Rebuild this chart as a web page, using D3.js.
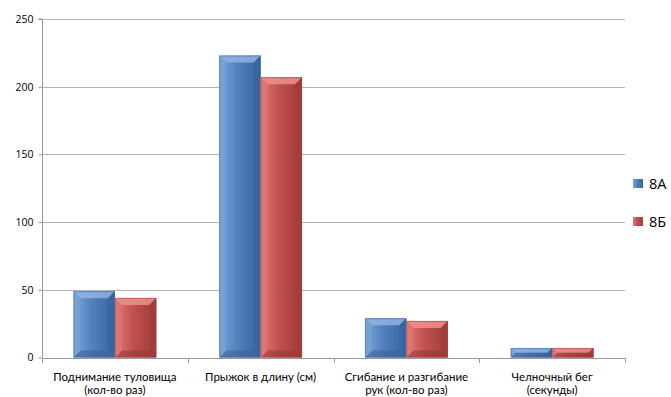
<!DOCTYPE html>
<html>
<head>
<meta charset="utf-8">
<script src="https://cdn.jsdelivr.net/npm/d3@7"></script>
<style>
  body { margin: 0; background: #fff; }
  svg { display: block; font-family: "Open Sans", "Noto Sans", sans-serif; }
</style>
</head>
<body>
<svg id="chart" width="671" height="397"></svg>
<script>
// Results of physical fitness tests for two classes
const categories = [
  ["Поднимание туловища", "(кол-во раз)"],
  ["Прыжок в длину (см)"],
  ["Сгибание и разгибание", "рук (кол-во раз)"],
  ["Челночный бег", "(секунды)"]
];
const seriesNames = ["8А", "8Б"];
const values8A = [49, 223, 29, 7];
const values8B = [44, 207, 27, 7];
const yTicks = [0, 50, 100, 150, 200, 250];

const colors = {
  "8А": { base: "#4f81bd", light: "#7ba3d8", dark: "#38649c", top: "#8fb4e3", bottom: "#3a6396" },
  "8Б": { base: "#c0504d", light: "#e07a77", dark: "#a03c39", top: "#ef8f8c", bottom: "#973735" }
};

const svg = d3.select("#chart");
const margin = { left: 42, right: 46, top: 19, bottom: 40 };
const width = 671, height = 397;
const x0 = margin.left, x1 = width - margin.right;
const y0 = height - margin.bottom, y1 = margin.top;

const x = d3.scaleBand().domain(d3.range(categories.length)).range([x0, x1]).paddingInner(0).paddingOuter(0);
const y = d3.scaleLinear().domain([0, 250]).range([y0 + 0.5, y1]);
const xs = d3.scaleBand().domain(seriesNames).range([0, x.bandwidth()]).paddingInner(0).paddingOuter(0.76);

// Gradients for the bevelled bars
const defs = svg.append("defs");
seriesNames.forEach((s, i) => {
  const g = defs.append("linearGradient").attr("id", "grad" + i)
    .attr("x1", "0").attr("x2", "1").attr("y1", "0").attr("y2", "0");
  g.append("stop").attr("offset", "0").attr("stop-color", colors[s].light);
  g.append("stop").attr("offset", "0.45").attr("stop-color", colors[s].base);
  g.append("stop").attr("offset", "1").attr("stop-color", colors[s].dark);
});

// Gridlines
svg.append("g").selectAll("line").data(yTicks.filter(d => d > 0)).join("line")
  .attr("x1", x0).attr("x2", x1)
  .attr("y1", d => Math.round(y(d)) + 0.5).attr("y2", d => Math.round(y(d)) + 0.5)
  .attr("stroke", "#b3b3b3").attr("stroke-width", 1);

// Y axis
const yAxis = svg.append("g").attr("transform", `translate(${x0 + 0.5},0)`)
  .call(d3.axisLeft(y).tickValues(yTicks).tickSize(4).tickPadding(5).tickFormat(d3.format("d")));
yAxis.select(".domain").attr("stroke", "#999").attr("d", `M-4,${y1}H0V${y0 + 0.5}`);
yAxis.selectAll(".tick line").attr("stroke", "#999");
yAxis.selectAll(".tick text").attr("font-size", 10.5).attr("fill", "#000")
  .attr("font-family", "Open Sans, sans-serif");

// Bars
const seriesValues = [values8A, values8B];
seriesNames.forEach((s, si) => {
  const g = svg.append("g");
  const bars = g.selectAll("g").data(seriesValues[si]).join("g");
  bars.each(function(v, ci) {
    const bx = x(ci) + xs(s), bw = xs.bandwidth();
    const by = y(v), bh = y(0) - by;
    const sel = d3.select(this);
    sel.append("rect").attr("x", bx).attr("y", by).attr("width", bw).attr("height", bh)
      .attr("fill", `url(#grad${si})`);
    const b = Math.min(7, bh / 2, bw / 2);
    // Top bevel
    sel.append("polygon")
      .attr("points", [[bx, by], [bx + bw, by], [bx + bw - b, by + b], [bx + b, by + b]].join(" "))
      .attr("fill", colors[s].top).attr("opacity", 0.85);
    // Bottom bevel
    sel.append("polygon")
      .attr("points", [[bx, by + bh], [bx + bw, by + bh], [bx + bw - b, by + bh - b], [bx + b, by + bh - b]].join(" "))
      .attr("fill", colors[s].bottom).attr("opacity", 0.6);
    // Left / right bevels
    sel.append("polygon")
      .attr("points", [[bx, by], [bx + b, by + b], [bx + b, by + bh - b], [bx, by + bh]].join(" "))
      .attr("fill", colors[s].light).attr("opacity", 0.5);
    sel.append("polygon")
      .attr("points", [[bx + bw, by], [bx + bw - b, by + b], [bx + bw - b, by + bh - b], [bx + bw, by + bh]].join(" "))
      .attr("fill", colors[s].dark).attr("opacity", 0.6);
    sel.append("rect").attr("x", bx + 0.5).attr("y", by + 0.5).attr("width", bw - 1).attr("height", bh - 1)
      .attr("fill", "none").attr("stroke", colors[s].dark).attr("stroke-opacity", 0.5);
  });
});

// X axis
svg.append("line").attr("x1", x0).attr("x2", x1)
  .attr("y1", Math.round(y(0)) + 0.5).attr("y2", Math.round(y(0)) + 0.5).attr("stroke", "#999");
svg.append("g").selectAll("line").data(d3.range(categories.length + 1)).join("line")
  .attr("x1", i => Math.round(x0 + i * x.bandwidth()) + 0.5)
  .attr("x2", i => Math.round(x0 + i * x.bandwidth()) + 0.5)
  .attr("y1", Math.round(y(0))).attr("y2", Math.round(y(0)) + 5).attr("stroke", "#999");

// Category labels, one text element per line
const labelLines = categories.flatMap((lines, i) => lines.map((t, k) => ({ i, k, t })));
svg.append("g").selectAll("text").data(labelLines).join("text")
  .attr("x", d => x(d.i) + x.bandwidth() / 2)
  .attr("y", d => 380.5 + d.k * 13.5)
  .attr("text-anchor", "middle").attr("font-size", 11.5).attr("fill", "#000")
  .attr("font-family", "Lato, sans-serif")
  .text(d => d.t);

// Legend
const legend = svg.append("g").selectAll("g").data(seriesNames).join("g")
  .attr("transform", (d, i) => `translate(633,${179 + i * 38})`);
legend.append("rect").attr("width", 10).attr("height", 9)
  .attr("fill", (d, i) => `url(#grad${i})`);
legend.append("text").attr("x", 16).attr("y", 10).attr("font-size", 14.5).attr("fill", "#000").text(d => d);
</script>
</body>
</html>
